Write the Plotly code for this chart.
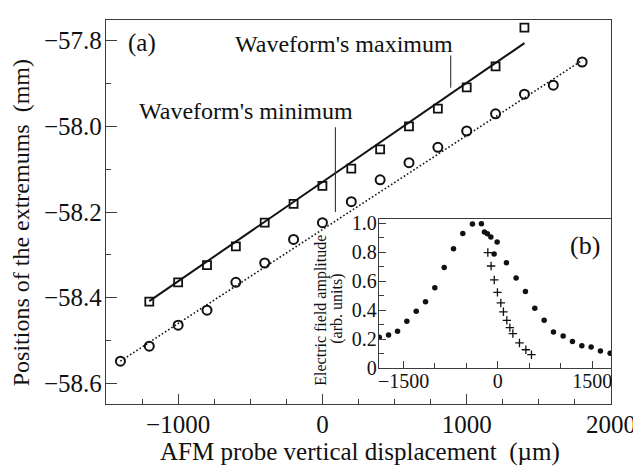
import plotly.graph_objects as go

# ---- main panel (a) data ----
x_max = [-1200, -1000, -800, -600, -400, -200, 0, 200, 400, 600, 800, 1000, 1200, 1400]
y_max = [-58.409, -58.364, -58.324, -58.280, -58.225, -58.181, -58.139, -58.099,
         -58.054, -58.000, -57.959, -57.909, -57.860, -57.770]

x_min = [-1400, -1200, -1000, -800, -600, -400, -200, 0, 200, 400, 600, 800,
         1000, 1200, 1400, 1600, 1800]
y_min = [-58.548, -58.513, -58.464, -58.429, -58.364, -58.319, -58.264, -58.225,
         -58.176, -58.125, -58.085, -58.049, -58.011, -57.971, -57.925, -57.904, -57.850]

fit_max_x = [-1200, 1400]
fit_max_y = [-58.408, -57.806]
fit_min_x = [-1400, 1800]
fit_min_y = [-58.548, -57.846]

# leader lines of the two labels
lead_max_x = [889, 889]
lead_max_y = [-57.835, -57.910]
lead_min_x = [90, 90]
lead_min_y = [-58.002, -58.200]

# ---- inset (b) data ----
dots_x = [-1885, -1738, -1595, -1447, -1298, -1150, -1002, -853, -705, -557, -404,
          -261, -213, -166, -111, -59, -11, 137, 291, 439, 588, 737, 885, 1039,
          1187, 1336, 1484, 1632, 1786]
dots_y = [0.213, 0.229, 0.254, 0.324, 0.393, 0.458, 0.555, 0.694, 0.825, 0.930,
          0.995, 0.997, 0.940, 0.927, 0.906, 0.788, 0.870, 0.727, 0.622, 0.529,
          0.413, 0.330, 0.249, 0.222, 0.184, 0.155, 0.146, 0.119, 0.103]
cross_x = [-159, -107, -57, -6, 48, 89, 143, 191, 239, 344, 446, 535]
cross_y = [0.798, 0.705, 0.609, 0.523, 0.450, 0.389, 0.330, 0.280, 0.239, 0.174,
           0.127, 0.093]

inset_yticks = [0, 0.2, 0.4, 0.6, 0.8, 1.0]
inset_yticktext = ["0", "0.2", "0.4", "0.6", "0.8", "1.0"]
inset_xticks = [-1500, 0, 1500]
inset_xticktext = ["\u22121500", "0", "1500"]

FONT = "Liberation Serif, Times New Roman, serif"
INK = "#111111"
AX = "#3c3c3c"

fig = go.Figure()

fig.add_trace(go.Scatter(x=fit_max_x, y=fit_max_y, mode="lines",
                         line=dict(color=INK, width=2), showlegend=False))
fig.add_trace(go.Scatter(x=fit_min_x, y=fit_min_y, mode="lines",
                         line=dict(color=INK, width=1.6, dash="1.6px,2.2px"), showlegend=False))
fig.add_trace(go.Scatter(x=x_max, y=y_max, mode="markers",
                         marker=dict(symbol="square-open", size=8, color=INK,
                                     line=dict(width=1.8, color=INK)), showlegend=False))
fig.add_trace(go.Scatter(x=x_min, y=y_min, mode="markers",
                         marker=dict(symbol="circle-open", size=9, color=INK,
                                     line=dict(width=2, color=INK)), showlegend=False))
fig.add_trace(go.Scatter(x=lead_max_x, y=lead_max_y, mode="lines",
                         line=dict(color="#333333", width=1.1), showlegend=False))
fig.add_trace(go.Scatter(x=lead_min_x, y=lead_min_y, mode="lines",
                         line=dict(color="#333333", width=1.1), showlegend=False))

# inset
fig.add_trace(go.Scatter(x=dots_x, y=dots_y, mode="markers", xaxis="x2", yaxis="y2",
                         marker=dict(symbol="circle", size=5.5, color=INK), showlegend=False))
fig.add_trace(go.Scatter(x=cross_x, y=cross_y, mode="markers", xaxis="x2", yaxis="y2",
                         marker=dict(symbol="cross-thin", size=6, color=INK,
                                     line=dict(width=1.3, color=INK)), showlegend=False))

# the page body adds an 8 px offset; layout is sized to compensate
OFF = 8
W, H = 641 - OFF, 467 - OFF
L, R, T, B = 106 - OFF, 30, 13 - OFF, 63
pw, ph = W - L - R, H - T - B


def px(xp):  # reference-picture x pixel -> paper fraction
    return (xp - OFF - L) / pw


def py(yp):  # reference-picture y pixel -> paper fraction
    return (H - B - (yp - OFF)) / ph


axis_common = dict(showline=True, linecolor=AX, linewidth=1.4, mirror=True,
                   showgrid=False, zeroline=False, ticks="inside", tickcolor=AX,
                   tickwidth=1.3)

fig.update_layout(
    width=W, height=H,
    margin=dict(l=L, r=R, t=T, b=B),
    paper_bgcolor="white", plot_bgcolor="white",
    font=dict(family=FONT, color=INK, size=24),
    xaxis=dict(axis_common, domain=[0, 1], range=[-1500, 2000], tick0=0, dtick=1000,
               ticklen=10, ticklabelstandoff=-2,
               tickfont=dict(size=25, family=FONT, color=INK),
               minor=dict(ticks="inside", dtick=250, tick0=0, ticklen=5, tickcolor=AX,
                          tickwidth=1.3),
               anchor="y"),
    yaxis=dict(axis_common, domain=[0, 1], range=[-58.648, -57.752], tick0=-58.6,
               dtick=0.2, tickformat=".1f", ticklen=11, ticklabelstandoff=-2,
               tickfont=dict(size=25, family=FONT, color=INK),
               minor=dict(ticks="inside", dtick=0.1, tick0=-58.6, ticklen=5,
                          tickcolor=AX, tickwidth=1.3),
               anchor="x"),
    xaxis2=dict(axis_common, domain=[px(379), 1], range=[-1890, 1800],
                tickmode="array", tickvals=inset_xticks, ticktext=inset_xticktext,
                ticklen=7, ticklabelstandoff=-5,
                tickfont=dict(size=20, family=FONT, color=INK),
                minor=dict(ticks="inside", dtick=500, tick0=0, ticklen=5,
                           tickcolor=AX, tickwidth=1.2),
                anchor="y2"),
    yaxis2=dict(axis_common, domain=[py(367.5), py(216)], range=[0, 1.027],
                tickmode="array", tickvals=inset_yticks, ticktext=inset_yticktext,
                ticklen=7, ticklabelstandoff=-3,
                tickfont=dict(size=20, family=FONT, color=INK),
                minor=dict(ticks="inside", dtick=0.1, tick0=0, ticklen=5,
                           tickcolor=AX, tickwidth=1.2),
                anchor="x2"),
)

ann = [
    dict(text="Waveform's maximum", x=px(344), y=py(37), size=24),
    dict(text="Waveform's minimum", x=px(246), y=py(106), size=24),
    dict(text="(a)", x=px(142), y=py(36), size=25),
    dict(text="(b)", x=px(585), y=py(243), size=26),
    dict(text="AFM probe vertical displacement  (\u00b5m)", x=px(359.5), y=py(453), size=25),
]
for a in ann:
    fig.add_annotation(text=a["text"], x=a["x"], y=a["y"], xref="paper", yref="paper",
                       xanchor="center", yanchor="middle", showarrow=False,
                       font=dict(family=FONT, size=a["size"], color=INK))

rot = [
    dict(text="Positions of the extremums  (mm)", x=px(21), y=py(220), size=24),
    dict(text="Electric field amplitude", x=px(321), y=py(309), size=16),
    dict(text="(arb. units)", x=px(337), y=py(307), size=16),
]
for a in rot:
    fig.add_annotation(text=a["text"], x=a["x"], y=a["y"], xref="paper", yref="paper",
                       xanchor="center", yanchor="middle", showarrow=False, textangle=-90,
                       font=dict(family=FONT, size=a["size"], color=INK))

fig.write_html("out.html")
